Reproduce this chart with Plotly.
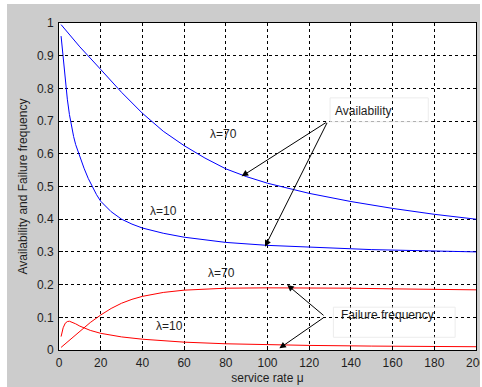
import plotly.graph_objects as go

# ---- data ----
mu_a70 = [1, 10, 20, 30, 40, 50, 60, 70, 80, 90, 100, 120, 140, 160, 180, 200]
avail_l70 = [0.995, 0.927, 0.858, 0.788, 0.724, 0.669, 0.625, 0.587, 0.554, 0.530, 0.510, 0.479, 0.454, 0.433, 0.415, 0.400]

mu_a10 = [1, 2, 3, 4, 5, 6, 7, 8, 10, 12, 14, 16, 18, 20, 25, 30, 35, 40, 50, 60, 70, 80, 100, 120, 150, 200]
avail_l10 = [0.960, 0.890, 0.825, 0.767, 0.720, 0.683, 0.653, 0.628, 0.590, 0.556, 0.525, 0.498, 0.475, 0.455, 0.423,
             0.400, 0.385, 0.373, 0.357, 0.345, 0.336, 0.329, 0.320, 0.314, 0.307, 0.300]

mu_f70 = [1, 5, 10, 15, 20, 25, 30, 35, 40, 50, 60, 70, 80, 100, 120, 140, 160, 180, 200]
fail_l70 = [0.008, 0.030, 0.057, 0.084, 0.107, 0.127, 0.143, 0.155, 0.164, 0.176, 0.183, 0.187, 0.189, 0.190, 0.190,
            0.189, 0.187, 0.185, 0.184]

mu_f10 = [1, 2, 3, 4, 5, 6, 8, 10, 12, 15, 20, 25, 30, 40, 50, 60, 80, 100, 120, 150, 200]
fail_l10 = [0.041, 0.068, 0.082, 0.087, 0.088, 0.086, 0.080, 0.073, 0.067, 0.060, 0.051, 0.045, 0.040, 0.033, 0.028,
            0.024, 0.019, 0.016, 0.014, 0.012, 0.010]

x_ticks = [0, 20, 40, 60, 80, 100, 120, 140, 160, 180, 200]
y_ticks = [0, 0.1, 0.2, 0.3, 0.4, 0.5, 0.6, 0.7, 0.8, 0.9, 1]
y_tick_text = ["0", "0.1", "0.2", "0.3", "0.4", "0.5", "0.6", "0.7", "0.8", "0.9", "1"]

FONT = "Liberation Sans, Arial, sans-serif"
TXT = "#1e1e1e"

fig = go.Figure()
for xs, ys, col in [(mu_a70, avail_l70, "#0000ff"), (mu_a10, avail_l10, "#0000ff"),
                    (mu_f70, fail_l70, "#ff0000"), (mu_f10, fail_l10, "#ff0000")]:
    fig.add_trace(go.Scatter(x=xs, y=ys, mode="lines", line=dict(color=col, width=1),
                             showlegend=False, hoverinfo="skip"))

axis_common = dict(
    showline=True, linecolor="black", linewidth=1, mirror=True,
    ticks="inside", ticklen=4, tickcolor="black",
    showgrid=True, gridcolor="black", gridwidth=1, griddash="3px,3px",
    zeroline=False, tickfont=dict(family=FONT, size=12, color=TXT),
    ticklabeloverflow="allow",
)

fig.update_xaxes(range=[0, 200], tickvals=x_ticks, ticklabelstandoff=2,
                 title=dict(text="service rate μ", font=dict(family=FONT, size=12, color=TXT), standoff=4),
                 **axis_common)
fig.update_yaxes(range=[0, 1], tickvals=y_ticks, ticktext=y_tick_text, ticklabelstandoff=2,
                 title=dict(text="Availability and Failure frequency", font=dict(family=FONT, size=12, color=TXT), standoff=6),
                 **axis_common)

annots = []
def label(x, y, t):
    annots.append(dict(x=x, y=y, xref="x", yref="y", text=t, showarrow=False,
                       font=dict(family=FONT, size=12, color=TXT)))

label(78.7, 0.662, "λ=70")
label(50.0, 0.424, "λ=10")
label(78.0, 0.237, "λ=70")
label(53.2, 0.074, "λ=10")
label(145.9, 0.730, "Availability")
label(157.7, 0.107, "Failure frequency")

def arrow(tx, ty, ox, oy):
    annots.append(dict(x=tx, y=ty, xref="x", yref="y", ax=ox, ay=oy, axref="x", ayref="y",
                       text="", showarrow=True, arrowhead=2, arrowsize=1.3, arrowwidth=1,
                       arrowcolor="black", standoff=0, startstandoff=0))

arrow(87.6, 0.531, 128.9, 0.699)
arrow(98.8, 0.316, 128.9, 0.699)
arrow(109.5, 0.199, 127.6, 0.102)
arrow(105.7, 0.005, 127.6, 0.102)

shapes = [
    # faint text boxes
    dict(type="rect", xref="x", yref="y", x0=130.0, x1=177.1, y0=0.698, y1=0.771,
         line=dict(color="#ececec", width=1), fillcolor="rgba(0,0,0,0)"),
    dict(type="rect", xref="x", yref="y", x0=131.6, x1=190.0, y0=0.039, y1=0.131,
         line=dict(color="#ececec", width=1), fillcolor="rgba(0,0,0,0)"),
    # white page strips around the grey figure area
    dict(type="rect", xref="paper", yref="paper", x0=-59/417, x1=-52/417, y0=-37/326.5, y1=1+23/326.5,
         line=dict(width=0), fillcolor="white"),
    dict(type="rect", xref="paper", yref="paper", x0=-59/417, x1=1+6/417, y0=1+19/326.5, y1=1+23.5/326.5,
         line=dict(width=0), fillcolor="white"),
    dict(type="rect", xref="paper", yref="paper", x0=1+4/417, x1=1+6.5/417, y0=-37/326.5, y1=1+23/326.5,
         line=dict(width=0), fillcolor="white"),
]

fig.update_layout(
    width=482, height=387,
    margin=dict(l=59, r=6, t=23, b=37, autoexpand=False),
    paper_bgcolor="#cccccc", plot_bgcolor="white",
    annotations=annots, shapes=shapes,
    font=dict(family=FONT, size=12, color=TXT),
)

fig.write_html("out.html")
